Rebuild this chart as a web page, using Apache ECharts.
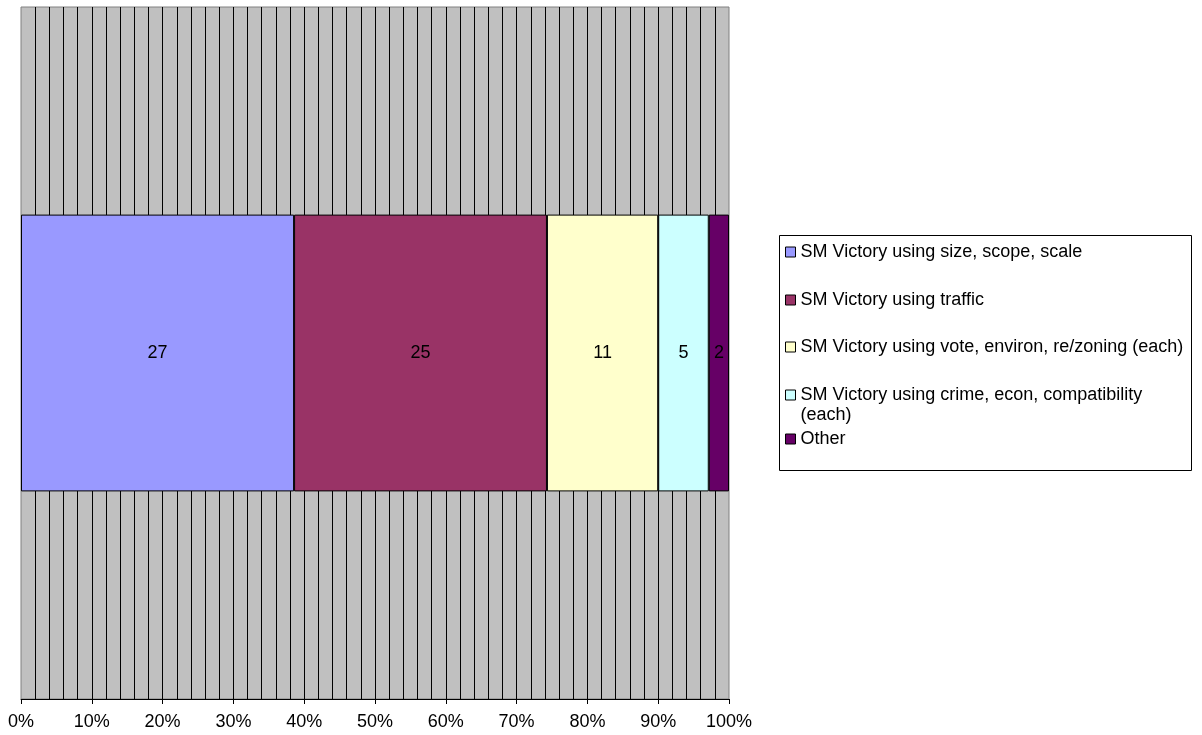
<!DOCTYPE html>
<html>
<head>
<meta charset="utf-8">
<script src="https://cdn.jsdelivr.net/npm/echarts@6/dist/echarts.min.js"></script>
<style>
  html, body { margin: 0; padding: 0; background: #fff; }
  #chart { width: 1202px; height: 735px; }
</style>
</head>
<body>
<div id="chart"></div>
<script>
const categories = [''];
const seriesNames = [
  'SM Victory using size, scope, scale',
  'SM Victory using traffic',
  'SM Victory using vote, environ, re/zoning (each)',
  'SM Victory using crime, econ, compatibility (each)',
  'Other'
];
const seriesValues = [27, 25, 11, 5, 2];
const seriesColors = ['#9999ff', '#993366', '#ffffcc', '#ccffff', '#660066'];
const tickLabels = ['0%', '10%', '20%', '30%', '40%', '50%', '60%', '70%', '80%', '90%', '100%'];

const FONT = 'Arial, "Liberation Sans", sans-serif';
const total = seriesValues.reduce((a, b) => a + b, 0);
const legendTops = [242, 290, 337, 365, 429];

const chart = echarts.init(document.getElementById('chart'));

const series = seriesNames.map((name, i) => ({
  name: name,
  type: 'bar',
  stack: 'total',
  barWidth: '40%',
  data: [seriesValues[i] / total * 100],
  itemStyle: { color: seriesColors[i], borderColor: '#000', borderWidth: 1 },
  label: {
    show: true,
    position: 'inside',
    color: '#000',
    fontSize: 18,
    fontFamily: FONT,
    formatter: () => String(seriesValues[i])
  },
  emphasis: { disabled: true }
}));

const legends = seriesNames.map((name, i) => ({
  data: [{ name: name, icon: 'rect', itemStyle: { borderColor: '#000', borderWidth: 1 } }],
  left: 785,
  top: legendTops[i],
  padding: 0,
  orient: 'vertical',
  itemWidth: 10,
  itemHeight: 10,
  selectedMode: false,
  textStyle: { fontSize: 18, fontFamily: FONT, color: '#000', lineHeight: 20 },
  formatter: function (n) {
    if (n === 'SM Victory using crime, econ, compatibility (each)') {
      return '\nSM Victory using crime, econ, compatibility\n(each)';
    }
    return n;
  }
}));

chart.setOption({
  animation: false,
  backgroundColor: '#fff',
  grid: {
    left: 21, right: 473, top: 7, bottom: 36,
    show: true,
    backgroundColor: '#c0c0c0',
    borderColor: '#808080',
    borderWidth: 1
  },
  xAxis: {
    type: 'value',
    min: 0,
    max: 100,
    interval: 10,
    axisLine: { show: true, lineStyle: { color: '#000', width: 1 } },
    axisTick: { show: true, length: 5, lineStyle: { color: '#000' } },
    axisLabel: {
      fontSize: 18,
      fontFamily: FONT,
      color: '#000',
      margin: 14,
      formatter: (v) => tickLabels[Math.round(v / 10)]
    },
    splitLine: { show: true, showMinLine: false, showMaxLine: false, lineStyle: { color: '#000', width: 1 } },
    minorTick: { show: false, splitNumber: 5 },
    minorSplitLine: { show: true, lineStyle: { color: '#000', width: 1 } }
  },
  yAxis: {
    type: 'category',
    data: categories,
    axisLine: { show: false },
    axisTick: { show: false },
    axisLabel: { show: false },
    splitLine: { show: false }
  },
  legend: legends,
  graphic: [{
    type: 'rect',
    shape: { x: 779.5, y: 235.5, width: 412, height: 235 },
    style: { fill: 'none', stroke: '#000', lineWidth: 1 },
    z: 100
  }],
  series: series
});
</script>
</body>
</html>
